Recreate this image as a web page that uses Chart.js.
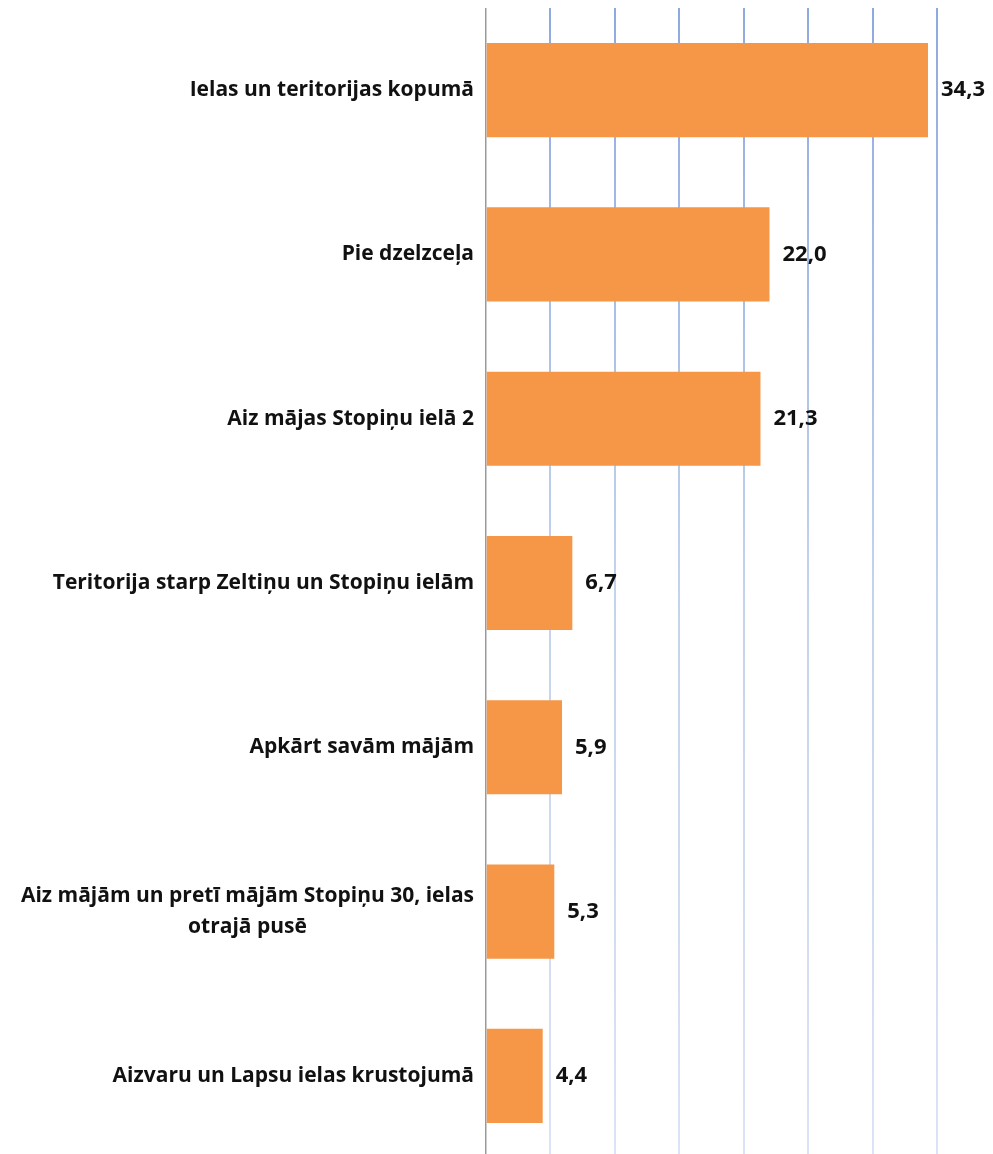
<!DOCTYPE html>
<html>
<head>
<meta charset="utf-8">
<script src="https://cdn.jsdelivr.net/npm/chart.js@4/dist/chart.umd.min.js"></script>
<style>
    html, body { margin: 0; padding: 0; background: #fff; overflow: hidden; }
    .wrap { width: 993px; height: 1154px; overflow: hidden; position: relative; }
    .box { width: 993px; height: 1158px; position: absolute; top: 0; left: 0; }
</style>
</head>
<body>
<div class="wrap"><div class="box"><canvas id="placesChart"></canvas></div></div>
<script>
const labels = [
    'Ielas un teritorijas kopumā',
    'Pie dzelzceļa',
    'Aiz mājas Stopiņu ielā 2',
    'Teritorija starp Zeltiņu un Stopiņu ielām',
    'Apkārt savām mājām',
    ['Aiz mājām un pretī mājām Stopiņu 30, ielas', 'otrajā pusē'],
    'Aizvaru un Lapsu ielas krustojumā'
];
const values = [34.3, 22.0, 21.3, 6.7, 5.9, 5.3, 4.4];

const FONT = '"Open Sans", sans-serif';
const fmt = (v) => v.toFixed(1).replace('.', ',');

// y labels drawn by hand so wrapped lines can be centred like the original
const categoryLabels = {
    id: 'categoryLabels',
    afterDraw(chart) {
        const { ctx, scales: { y }, chartArea } = chart;
        ctx.save();
        ctx.font = 'bold 21px ' + FONT;
        ctx.fillStyle = '#111';
        ctx.textBaseline = 'middle';
        const right = chartArea.left - 12;
        const lh = 31;
        labels.forEach((lab, i) => {
            const lines = Array.isArray(lab) ? lab : [lab];
            const w = Math.max(...lines.map(l => ctx.measureText(l).width));
            const cy = y.getPixelForTick(i);
            ctx.textAlign = 'center';
            lines.forEach((l, j) => {
                ctx.fillText(l, right - w / 2, cy + (j - (lines.length - 1) / 2) * lh);
            });
        });
        ctx.restore();
    }
};

const valueLabels = {
    id: 'valueLabels',
    afterDatasetsDraw(chart) {
        const { ctx } = chart;
        const meta = chart.getDatasetMeta(0);
        ctx.save();
        ctx.font = 'bold 22px ' + FONT;
        ctx.fillStyle = '#111';
        ctx.textAlign = 'left';
        ctx.textBaseline = 'middle';
        meta.data.forEach((bar, i) => {
            ctx.fillText(fmt(values[i]), bar.x + 13, bar.y);
        });
        ctx.restore();
    }
};

const gridColor = (c) => {
    if (c.index === 0) return '#9a9a9a';
    const area = c.chart.chartArea;
    if (!area) return '#a9bfe6';
    const g = c.chart.ctx.createLinearGradient(0, area.top, 0, area.bottom);
    g.addColorStop(0, '#8eaadc');
    g.addColorStop(0.5, '#c3d2ee');
    g.addColorStop(1, '#dbe4f4');
    return g;
};

new Chart(document.getElementById('placesChart'), {
    type: 'bar',
    data: {
        labels: labels,
        datasets: [{
            data: values,
            backgroundColor: '#F69647',
            borderWidth: 0,
            barPercentage: 0.573,
            categoryPercentage: 1
        }]
    },
    options: {
        indexAxis: 'y',
        responsive: true,
        maintainAspectRatio: false,
        animation: false,
        layout: { padding: { top: 8, right: 56, bottom: 0, left: 0 } },
        plugins: {
            legend: { display: false },
            tooltip: { enabled: false }
        },
        scales: {
            x: {
                min: 0,
                max: 35,
                ticks: { display: false, stepSize: 5 },
                grid: { color: gridColor, lineWidth: (c) => c.index === 0 ? 1.5 : 2, drawTicks: false },
                border: { display: false }
            },
            y: {
                ticks: { display: false },
                grid: { display: false, drawTicks: false },
                border: { display: false },
                afterFit: (scale) => { scale.width = 486; }
            }
        }
    },
    plugins: [categoryLabels, valueLabels]
});
</script>
</body>
</html>
